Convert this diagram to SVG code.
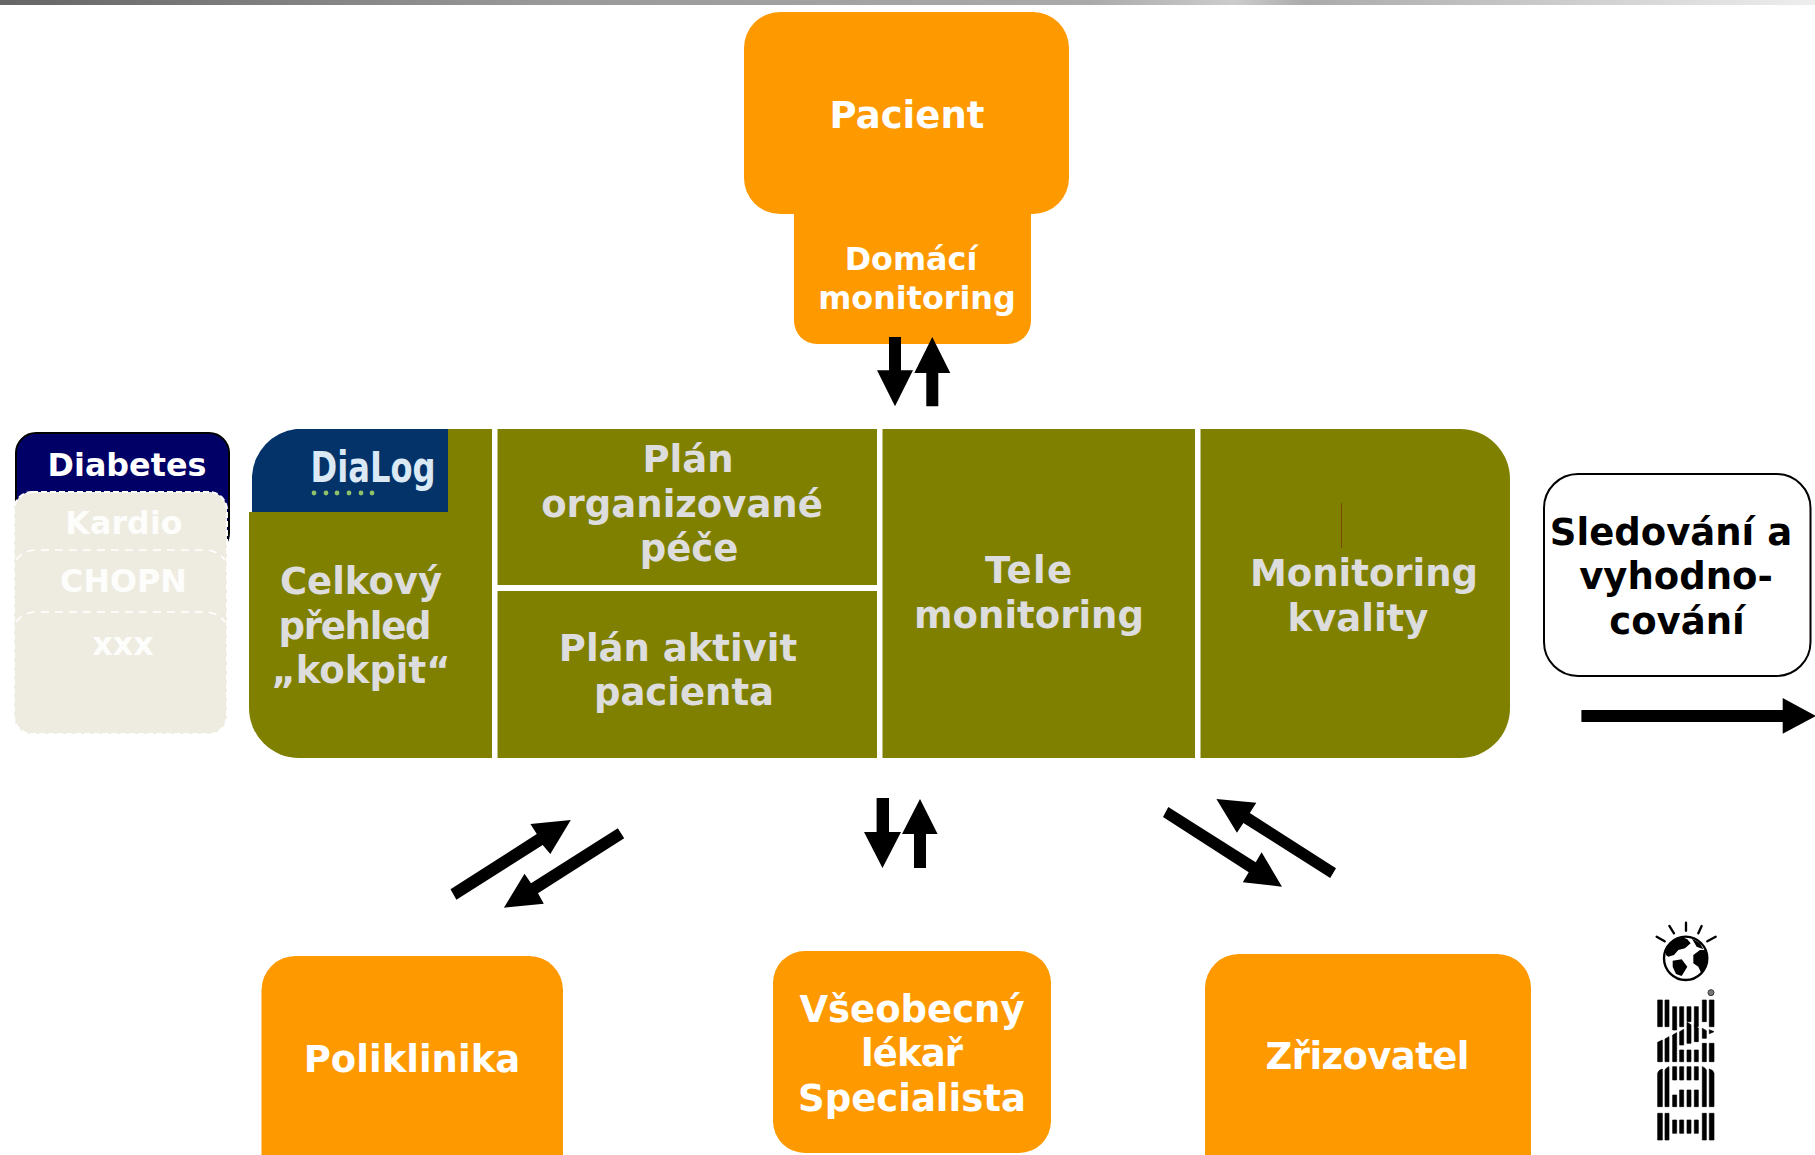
<svg xmlns="http://www.w3.org/2000/svg" width="1815" height="1155" viewBox="0 0 1815 1155">
<defs>
<linearGradient id="top" x1="0" x2="1" y1="0" y2="0"><stop offset="0" stop-color="#666"/><stop offset="0.3" stop-color="#999"/><stop offset="0.6" stop-color="#aaa"/><stop offset="0.68" stop-color="#ccc"/><stop offset="0.72" stop-color="#aaa"/><stop offset="1" stop-color="#eee"/></linearGradient>
</defs>
<style>
text{font-family:"DejaVu Sans",Verdana,sans-serif;font-weight:700;text-anchor:middle}
.o{fill:#ff9900}
.w{fill:#fff;font-size:37px}
.g{fill:#dddddd;font-size:37px}
.k{fill:#000;font-size:37px}
.d{fill:#fff;font-size:31.8px}
.s{fill:#fdfdfb;font-size:31.8px}
.div{fill:#fff}
.dash{fill:none;stroke:#fff;stroke-width:1.5;stroke-dasharray:8 6}
.ray{stroke:#000;stroke-width:7;stroke-linecap:round;fill:none}
</style>
<rect x="0" y="0" width="1815" height="5" fill="url(#top)"/>
<g id="domaci"><path class="o" d="M794 205H1031V321a23 23 0 0 1-23 23H817a23 23 0 0 1-23-23Z"/><text class="d" x="911" y="269.500">Domácí</text><text class="d" x="917" y="308.500">monitoring</text></g>
<g id="pacient"><rect class="o" x="744" y="12" width="325" height="202" rx="36"/><text class="w" x="907" y="128">Pacient</text></g>
<g id="hub">
<rect x="249" y="429" width="1261" height="329" rx="50" fill="#808000"/>
<rect x="248" y="428" width="52" height="84" fill="#fff"/>
<g id="dialog"><path d="M252 512V476a50 50 0 0 1 44-47H448V512Z" fill="#04336a"/><text x="373" y="482" style="font-family:'DejaVu Sans Condensed','DejaVu Sans',sans-serif;font-weight:700" font-size="42" fill="#dbe9f4" textLength="125" lengthAdjust="spacingAndGlyphs">DiaLog</text><g fill="#8fc06a"><circle cx="314" cy="493" r="2.4"/><circle cx="326" cy="493" r="2.4"/><circle cx="337" cy="493" r="2.4"/><circle cx="349" cy="493" r="2.4"/><circle cx="361" cy="493" r="2.4"/><circle cx="372" cy="493" r="2.4"/></g></g>
<rect class="div" x="492" y="429" width="5.5" height="329"/>
<rect class="div" x="877" y="429" width="5.5" height="329"/>
<rect class="div" x="1195" y="429" width="5.5" height="329"/>
<rect class="div" x="497" y="585" width="380" height="6"/>
<rect x="1341" y="503" width="1" height="45" fill="#7a4a00"/>
<g id="kokpit"><text class="g" x="361" y="594">Celkový</text><text class="g" x="355" y="639" textLength="153">přehled</text><text class="g" x="361" y="683">„kokpit“</text></g>
<g id="plan-pece"><text class="g" x="688" y="472">Plán</text><text class="g" x="682" y="517">organizované</text><text class="g" x="689" y="561">péče</text></g>
<g id="plan-aktivit"><text class="g" x="678" y="661">Plán aktivit</text><text class="g" x="684" y="705">pacienta</text></g>
<g id="tele"><text class="g" x="1028.5" y="583" textLength="87">Tele</text><text class="g" x="1029" y="628">monitoring</text></g>
<g id="kvalita"><text class="g" x="1364" y="586">Monitoring</text><text class="g" x="1358" y="631">kvality</text></g>
</g>
<g id="sledovani"><rect x="1544" y="474" width="266.5" height="202" rx="34" fill="#fff" stroke="#000" stroke-width="2"/><text class="k" x="1671" y="545">Sledování a</text><text class="k" x="1676" y="589">vyhodno-</text><text class="k" x="1677" y="634">cování</text></g>
<g id="diabetes"><rect x="16" y="433" width="213" height="120" rx="20" fill="#000066" stroke="#000" stroke-width="2"/><text class="d" x="127" y="476">Diabetes</text></g>
<g id="tabs"><rect x="14" y="492" width="213" height="242" rx="18" fill="#eeece1" stroke="#fff" stroke-width="2" stroke-dasharray="6 3"/><path class="dash" d="M16 560q8-10 20-10H205q12 0 20 10M16 622q8-10 20-10H205q12 0 20 10"/><text class="s" x="124" y="534">Kardio</text><text class="s" x="123.500" y="592">CHOPN</text><text class="s" x="123" y="655">xxx</text></g>
<g id="poliklinika"><rect class="o" x="261.500" y="956" width="301.500" height="240" rx="34"/><text class="w" x="412" y="1072">Poliklinika</text></g>
<g id="lekar"><rect class="o" x="773" y="951" width="278" height="202" rx="32"/><text class="w" x="912" y="1022">Všeobecný</text><text class="w" x="912" y="1066" textLength="102">lékař</text><text class="w" x="912" y="1111">Specialista</text></g>
<g id="zrizovatel"><rect class="o" x="1205" y="954" width="326" height="240" rx="34"/><text class="w" x="1367.500" y="1069" textLength="204">Zřizovatel</text></g>
<g id="connectors" fill="#000">
<polygon points="889,337 901,337 901,370.300 913,370.300 895,406.300 877,370.300 889,370.300"/>
<polygon points="926.300,406.300 938.300,406.300 938.300,373 950.300,373 932.300,337 914.300,373 926.300,373"/>
<polygon points="876.600,798 889,798 889,832 901,832 882.500,868 864,832 876.600,832"/>
<polygon points="914,868 926,868 926,834 937.600,834 920,799 902,834 914,834"/>
<polygon points="450.500,889.300 456.400,899.700 542.700,845 550.300,854 570.800,820 530.400,824 536.800,834"/>
<polygon points="617.800,828.300 624.200,838.300 538,893.300 543.800,903.700 503.900,907.700 524.500,873.700 531,883.300"/>
<polygon points="1168.300,807 1163,817 1248.700,872.300 1242.800,882.300 1282,886.700 1261.600,852.300 1255.700,862.300"/>
<polygon points="1216.400,799 1256.300,802.700 1249.800,813 1336,868.300 1330.200,878 1243.400,823 1236.900,832.700"/>
<polygon points="1581.400,710 1782.700,710 1782.700,698 1816,716 1782.700,733.700 1782.700,722 1581.400,722"/>
</g>
<g id="ibm-logo">
<g transform="translate(1600 900) scale(0.3333)">
<path class="ray" d="M258 68V92M208 78L222 100M305 78L295 100M170 110L194 124M347 110L322 124"/>
<circle cx="257" cy="175" r="65" fill="#fff" stroke="#000" stroke-width="7"/>
<path d="M198 165Q195 125 245 110L262 118L272 130L255 145L235 150L222 165L205 170Z"/>
<path d="M280 165L300 150L320 150Q328 190 305 222L295 200L280 190Z"/>
<path d="M218 182L245 178L262 200L245 228L228 222L218 200Z"/>
<path d="M275 115L300 130L310 148L290 140Z"/>
<circle cx="333" cy="278" r="9" fill="#777" stroke="#333" stroke-width="3"/>
</g>
<g transform="translate(1645 985) scale(0.3333)" stroke="#000" stroke-width="2">
<path d="M38 45h14v80h-14zM38 172l14-7v65h-14zM38 265q2-10 14-13v113h-14zM38 385h14v80h-14z"/>
<path d="M60 45h12v80h-12zM60 162l12-7v75h-12zM60 255q4-8 12-10v120h-12zM60 385h12v80h-12z"/>
<path d="M83 65h12v70h-12zM83 150l12-7v87h-12zM83 245h12v40h-12zM83 330h12v35h-12zM83 405h12v40h-12z"/>
<path d="M104 65h12v60h-12zM104 140l12-7v47h-12zM104 195h12v35h-12zM104 245h12v40h-12zM104 315h12v50h-12zM104 405h12v40h-12z"/>
<path d="M126 65h12v45h-12zM126 112l12 7v56h-12zM126 195h12v35h-12zM126 245h12v40h-12zM126 315h12v50h-12zM126 405h12v40h-12z"/>
<path d="M148 65h12v60h-12zM148 122l12 7v41h-12zM148 195h12v35h-12zM148 245h12v40h-12zM148 315h12v50h-12zM148 405h12v40h-12z"/>
<path d="M172 45h12v65h-12zM172 130l12 7v23h-12zM172 175h12v55h-12zM172 245q8 2 12 10v110h-12zM172 385h12v80h-12z"/>
<path d="M193 45h14v80h-14zM193 134l14 6-14 6zM193 175h14v55h-14zM193 252q12 3 14 13v100h-14zM193 385h14v80h-14z"/>
</g>
</g>
</svg>
